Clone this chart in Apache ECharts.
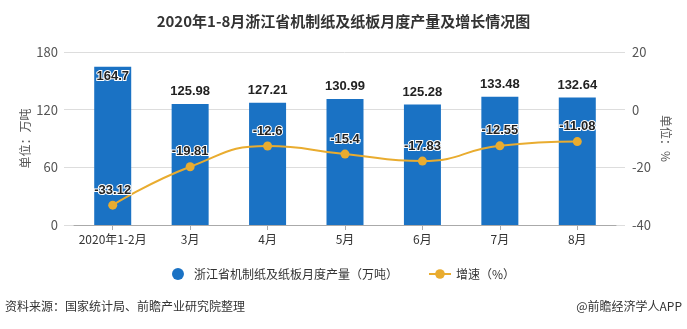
<!DOCTYPE html>
<html><head><meta charset="utf-8">
<script src="https://cdn.jsdelivr.net/npm/echarts@6/dist/echarts.min.js"></script>
<style>html,body{margin:0;padding:0;background:#fff}#c{width:687px;height:329px}</style>
</head><body><div id="c"></div>
<script>
var categories = ['2020年1-2月','3月','4月','5月','6月','7月','8月'];
var output = [164.7,125.98,127.21,130.99,125.28,133.48,132.64];
var growth = [-33.12,-19.81,-12.6,-15.4,-17.83,-12.55,-11.08];
var leftTicks = {min:0, max:180, interval:60};
var rightTicks = {min:-40, max:20, interval:20};

var font = '"Microsoft YaHei","Noto Sans CJK SC",sans-serif';
var chart = echarts.init(document.getElementById('c'));
var lblStyle = {fontSize:13, fontWeight:'bold', color:'#222', textBorderColor:'#fff', textBorderWidth:2, fontFamily:'Arial,sans-serif'};
chart.setOption({
  animation:false,
  textStyle:{fontFamily:font},
  title:{text:'2020年1-8月浙江省机制纸及纸板月度产量及增长情况图', left:'center', top:9,
    textStyle:{fontSize:15, fontWeight:'bold', color:'#333', fontFamily:font}},
  grid:[{left:64,right:62,top:52,bottom:104},{left:74,right:71,top:52,bottom:104}],
  legend:{bottom:44, left:'center', itemGap:30, itemWidth:22, itemHeight:12,
    textStyle:{fontSize:12, color:'#333'},
    data:[{name:'浙江省机制纸及纸板月度产量（万吨）', icon:'circle'}, {name:'增速（%）'}]},
  graphic:[
    {type:'text', left:5, top:300, style:{text:'资料来源：国家统计局、前瞻产业研究院整理', fontSize:12, fill:'#333', fontFamily:font}},
    {type:'text', right:5, top:300, style:{text:'@前瞻经济学人APP', fontSize:12, fill:'#333', fontFamily:font}}
  ],
  xAxis:[
    {type:'value', gridIndex:0, show:false, min:0, max:1},
    {type:'category', gridIndex:1, data:categories,
      axisLine:{lineStyle:{color:'#aaa'}}, axisTick:{show:true, alignWithLabel:true, lineStyle:{color:'#aaa'}},
      axisLabel:{color:'#333', fontSize:12, margin:8, interval:0}}
  ],
  yAxis:[
    {type:'value', gridIndex:0, min:leftTicks.min, max:leftTicks.max, interval:leftTicks.interval,
      name:'单位：万吨', nameLocation:'middle', nameGap:33, nameRotate:90, nameMoveOverlap:false, nameTextStyle:{color:'#555', fontSize:12},
      axisLine:{show:false}, axisTick:{show:false}, axisLabel:{color:'#555', fontSize:13, margin:6},
      splitLine:{lineStyle:{color:'#ddd'}}},
    {type:'value', gridIndex:0, position:'right', min:rightTicks.min, max:rightTicks.max, interval:rightTicks.interval,
      name:'单位：%', nameLocation:'middle', nameGap:35, nameRotate:-90, nameMoveOverlap:false, nameTextStyle:{color:'#555', fontSize:12},
      axisLine:{show:false}, axisTick:{show:false}, axisLabel:{color:'#555', fontSize:13, margin:7},
      splitLine:{show:false}},
    {type:'value', gridIndex:1, min:leftTicks.min, max:leftTicks.max, interval:leftTicks.interval, show:false, splitLine:{show:false}},
    {type:'value', gridIndex:1, min:rightTicks.min, max:rightTicks.max, interval:rightTicks.interval, show:false, splitLine:{show:false}}
  ],
  series:[
    {name:'浙江省机制纸及纸板月度产量（万吨）', type:'bar', xAxisIndex:1, yAxisIndex:2, barWidth:37,
      itemStyle:{color:'#1a72c4'},
      data:output.map(function(v,i){ return i===0 ? {value:v, label:{position:'insideTop', distance:3}} : v; }),
      label:Object.assign({show:true, position:'top', distance:6}, lblStyle)},
    {name:'增速（%）', type:'line', xAxisIndex:1, yAxisIndex:3, smooth:true, data:growth,
      symbol:'circle', symbolSize:9, lineStyle:{color:'#e9ac2f', width:2}, itemStyle:{color:'#e9ac2f'},
      label:Object.assign({show:true, position:'top', distance:4}, lblStyle), z:5}
  ]
});
</script></body></html>
